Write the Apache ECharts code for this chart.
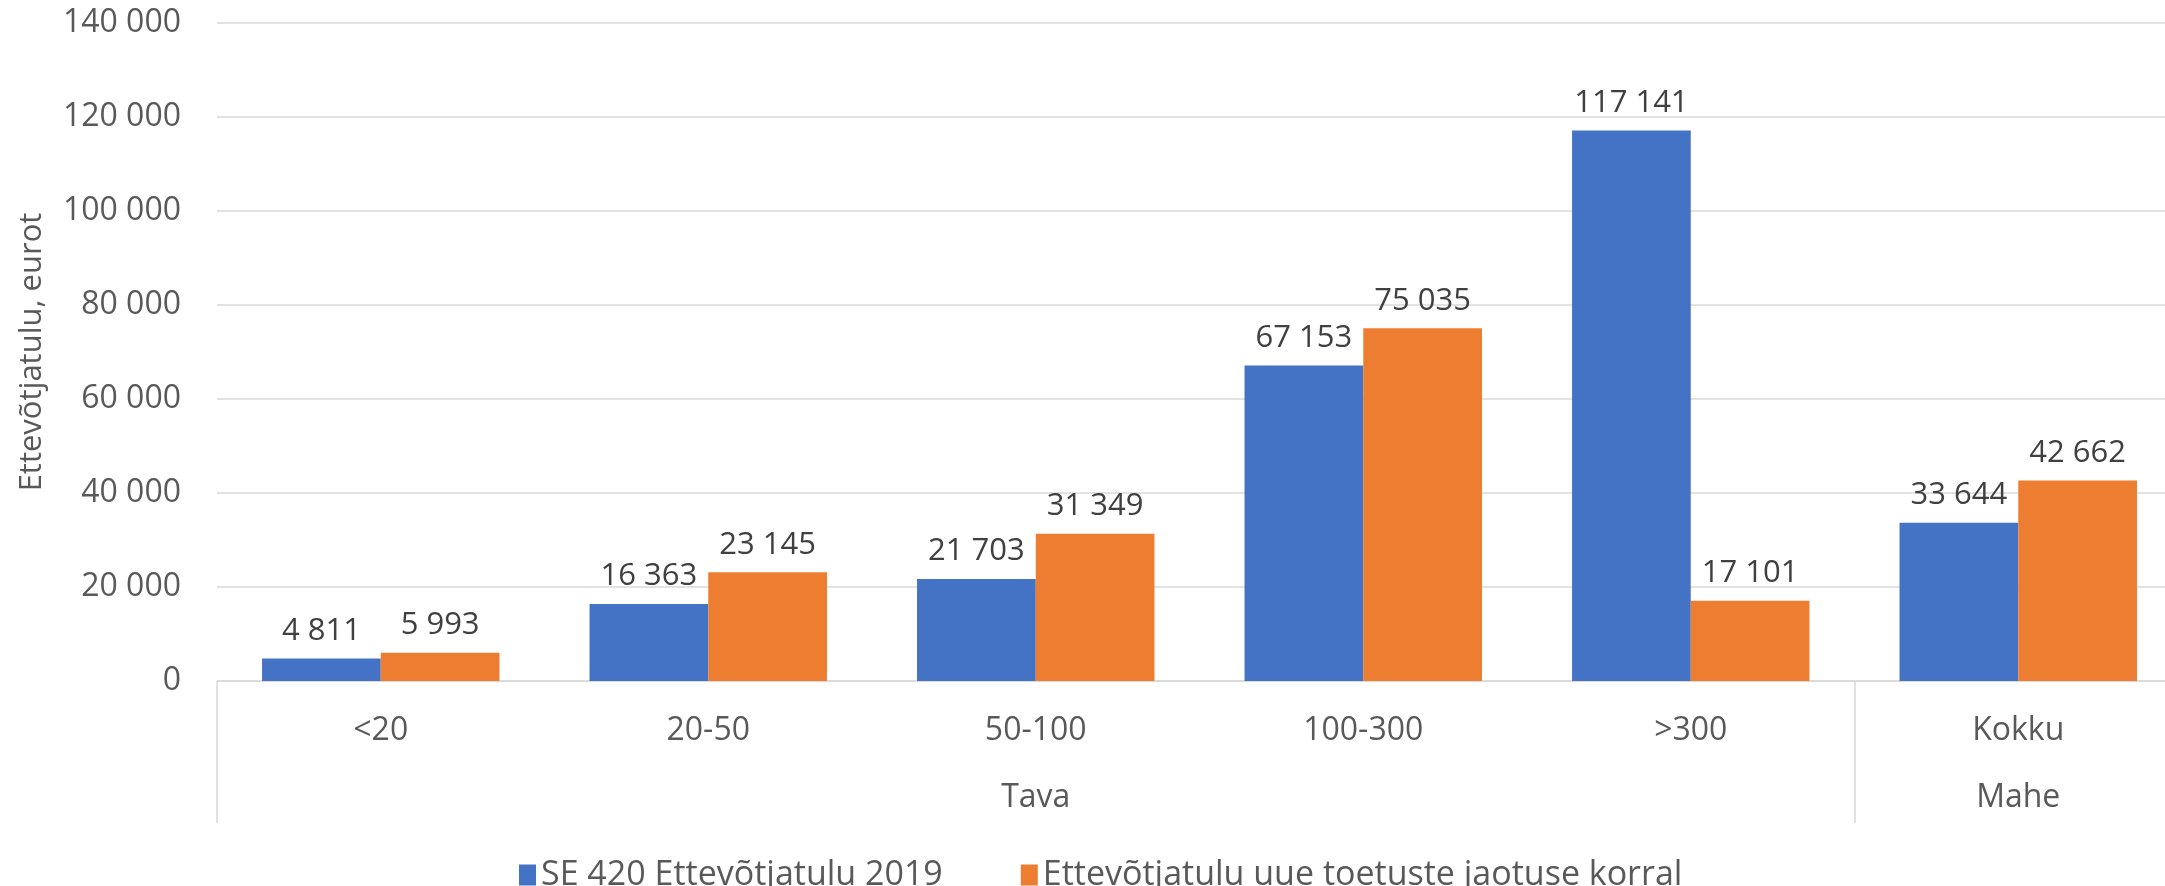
<!DOCTYPE html>
<html>
<head>
<meta charset="utf-8">
<script src="https://cdn.jsdelivr.net/npm/echarts@6/dist/echarts.min.js"></script>
<style>
html,body{margin:0;padding:0;background:#fff;overflow:hidden;}
#chart{width:2165px;height:886px;}
</style>
</head>
<body>
<div id="chart"></div>
<script>
const categories = ['<20', '20-50', '50-100', '100-300', '>300', 'Kokku'];
const groupLabels = ['', '', 'Tava', '', '', 'Mahe'];
const groupStarts = [0, 5];
const seriesNames = ['SE 420 Ettevõtjatulu 2019', 'Ettevõtjatulu uue toetuste jaotuse korral'];
const se420Values = [4811, 16363, 21703, 67153, 117141, 33644];
const newValues = [5993, 23145, 31349, 75035, 17101, 42662];
const yMin = 0, yMax = 140000, yStep = 20000;
const yTitle = 'Ettevõtjatulu, eurot';

const fmt = v => String(Math.round(v)).replace(/\B(?=(\d{3})+(?!\d))/g, ' ');
const txt = '#595959';
const gridCol = '#D9D9D9';
const mainFont = '"Open Sans", "Noto Sans", sans-serif';

const chart = echarts.init(document.getElementById('chart'), null, {renderer: 'canvas'});
const barLabel = {
  show: true, position: 'top', distance: 12,
  fontFamily: mainFont, fontSize: 31, color: '#404040',
  formatter: p => fmt(p.value)
};
chart.setOption({
  animation: false,
  color: ['#4472C4', '#ED7D31'],
  grid: {left: 217, top: 23, width: 1965, height: 658, containLabel: false, outerBoundsMode: 'none'},
  legend: {
    data: seriesNames, left: 514, top: 853, icon: 'rect',
    itemWidth: 17, itemHeight: 21, itemGap: 78,
    textStyle: {fontFamily: mainFont, fontSize: 34, color: txt}
  },
  xAxis: [
    {
      type: 'category', data: categories, position: 'bottom',
      axisLine: {show: true, lineStyle: {color: gridCol, width: 1.5}},
      axisTick: {show: false},
      axisLabel: {margin: 34, fontFamily: mainFont, fontSize: 32, color: txt, interval: 0}
    },
    {
      type: 'category', data: groupLabels, position: 'bottom', gridIndex: 0,
      axisLine: {show: false},
      axisTick: {
        show: true, length: 142, inside: false,
        interval: (i) => groupStarts.indexOf(i) >= 0,
        lineStyle: {color: gridCol, width: 1.5}
      },
      axisLabel: {margin: 101, fontFamily: mainFont, fontSize: 32, color: txt, interval: 0},
      splitLine: {show: false}
    }
  ],
  yAxis: {
    type: 'value', min: yMin, max: yMax, interval: yStep,
    name: yTitle, nameLocation: 'middle', nameGap: 169,
    nameTextStyle: {fontFamily: mainFont, fontSize: 31, color: txt},
    axisLine: {show: false}, axisTick: {show: false},
    axisLabel: {margin: 36, fontFamily: mainFont, fontSize: 32, color: txt, formatter: fmt},
    splitLine: {lineStyle: {color: gridCol, width: 1.5}}
  },
  series: [
    {name: seriesNames[0], type: 'bar', xAxisIndex: 0, data: se420Values,
     barGap: '0%', barCategoryGap: '27.5%', label: barLabel},
    {name: seriesNames[1], type: 'bar', xAxisIndex: 0, data: newValues,
     barGap: '0%', barCategoryGap: '27.5%', label: barLabel}
  ]
});
</script>
</body>
</html>
